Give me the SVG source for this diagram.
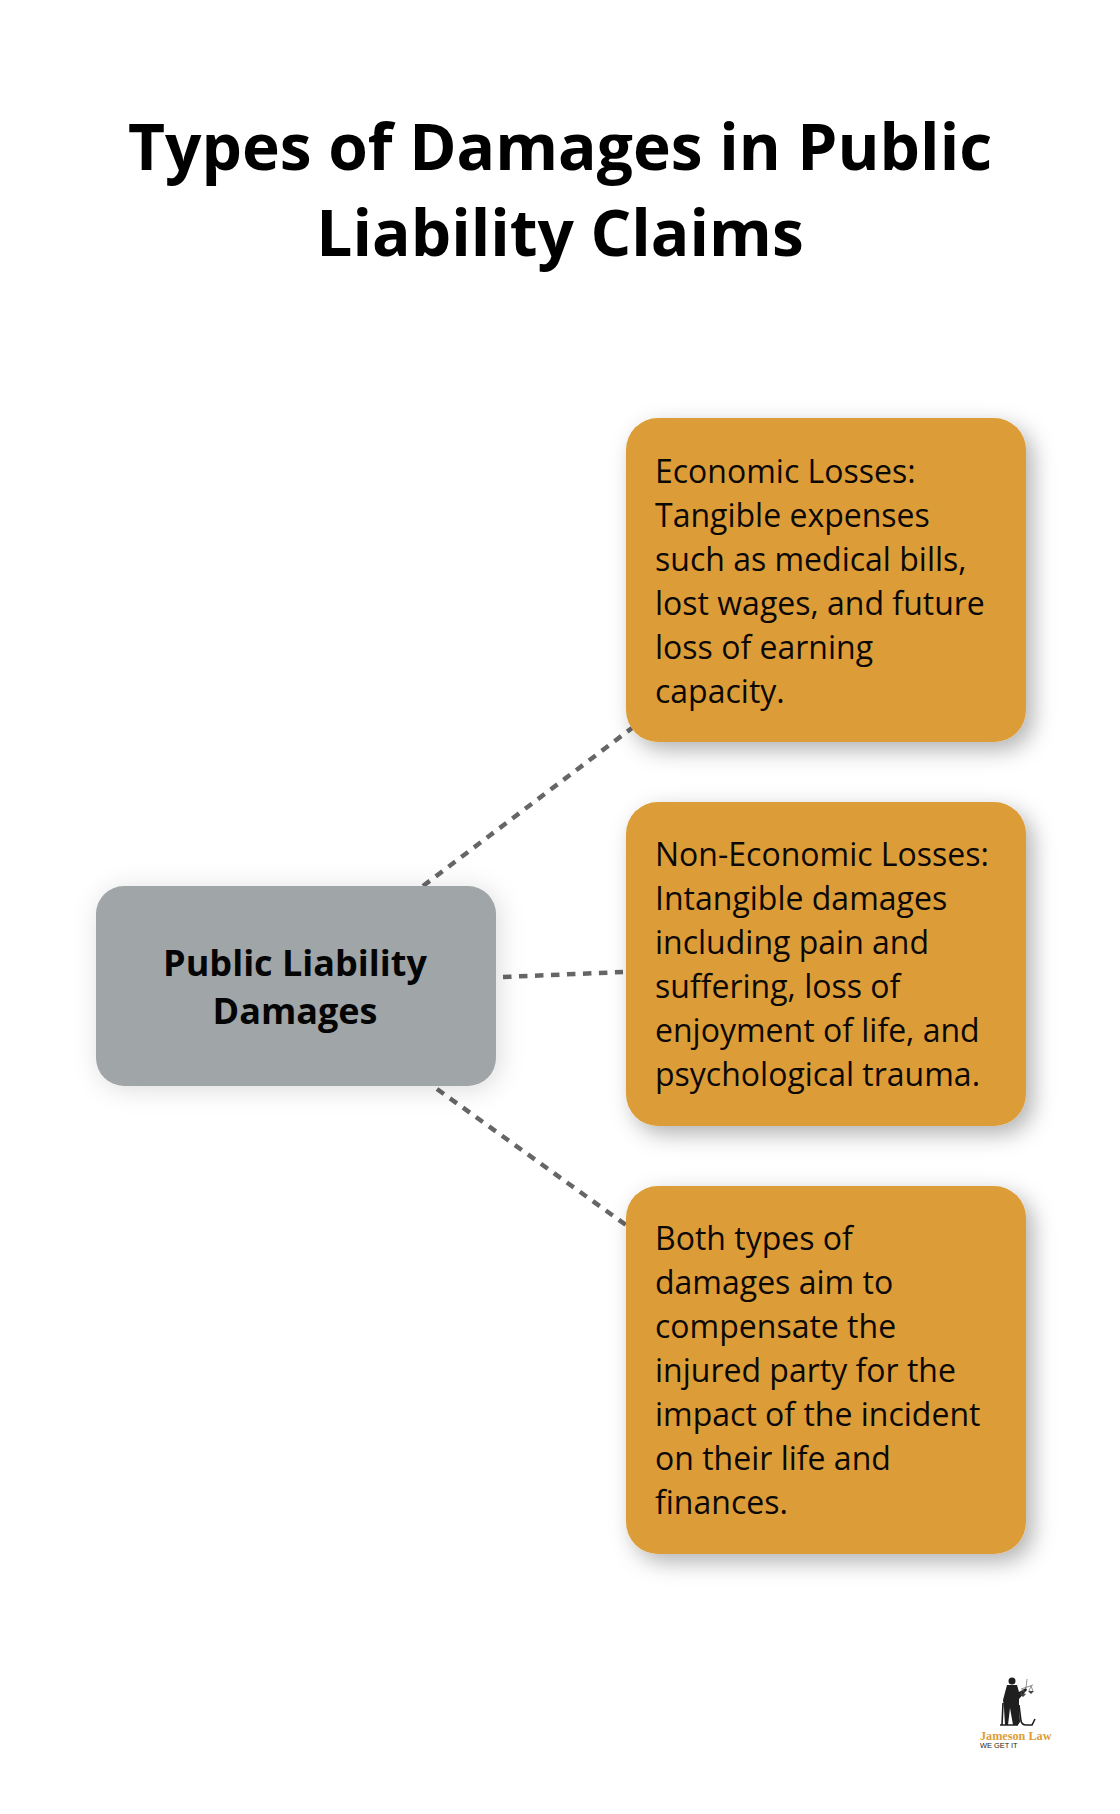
<svg xmlns="http://www.w3.org/2000/svg" width="1120" height="1814" viewBox="0 0 1120 1814">
<style>
text{font-family:"Open Sans","Noto Sans",sans-serif;fill:#000}
.title{font-size:64px;font-weight:700;text-anchor:middle}
.hub{font-size:36px;font-weight:700;text-anchor:middle;fill:#050505}
.body{font-size:32px;fill:#0c0805}
.box{fill:#dc9d38;filter:url(#sh)}
.hubbox{fill:#a0a5a8;filter:url(#shh)}
.con{stroke:#666;stroke-width:4.5;stroke-dasharray:8.5 7.5;fill:none}
</style>
<defs>
<filter id="sh" x="-20%" y="-20%" width="140%" height="140%"><feDropShadow dx="7" dy="8" stdDeviation="11" flood-color="#000" flood-opacity="0.3"/></filter>
<filter id="shh" x="-20%" y="-30%" width="140%" height="160%"><feDropShadow dx="3" dy="3" stdDeviation="13" flood-color="#000" flood-opacity="0.14"/></filter>
</defs>
<rect width="1120" height="1814" fill="#fff"/>
<g id="title">
<text class="title" x="560" y="170">Types of Damages in Public</text>
<text class="title" x="560" y="256">Liability Claims</text>
</g>
<g id="connectors">
<path class="con" d="M423 886L632 728"/>
<path class="con" d="M503 977L623 972"/>
<path class="con" d="M437 1089L626 1225"/>
</g>
<g id="hub">
<rect class="hubbox" x="96" y="886" width="400" height="200" rx="28"/>
<text class="hub" x="295" y="976">Public Liability</text>
<text class="hub" x="295" y="1024">Damages</text>
</g>
<g id="node-economic">
<rect class="box" x="626" y="418" width="400" height="324" rx="32"/>
<text class="body" x="655" y="482.5">Economic Losses:</text>
<text class="body" x="655" y="526.5">Tangible expenses</text>
<text class="body" x="655" y="570.5">such as medical bills,</text>
<text class="body" x="655" y="614.5">lost wages, and future</text>
<text class="body" x="655" y="658.5">loss of earning</text>
<text class="body" x="655" y="702.5">capacity.</text>
</g>
<g id="node-non-economic">
<rect class="box" x="626" y="802" width="400" height="324" rx="32"/>
<text class="body" x="655" y="866">Non-Economic Losses:</text>
<text class="body" x="655" y="910">Intangible damages</text>
<text class="body" x="655" y="954">including pain and</text>
<text class="body" x="655" y="998">suffering, loss of</text>
<text class="body" x="655" y="1042">enjoyment of life, and</text>
<text class="body" x="655" y="1086">psychological trauma.</text>
</g>
<g id="node-both">
<rect class="box" x="626" y="1186" width="400" height="368" rx="32"/>
<text class="body" x="655" y="1250">Both types of</text>
<text class="body" x="655" y="1294">damages aim to</text>
<text class="body" x="655" y="1338">compensate the</text>
<text class="body" x="655" y="1382">injured party for the</text>
<text class="body" x="655" y="1426">impact of the incident</text>
<text class="body" x="655" y="1470">on their life and</text>
<text class="body" x="655" y="1514">finances.</text>
</g>
<g id="logo">
<circle cx="1012" cy="1681" r="3.5" fill="#1f1f1f"/>
<path d="M1007 1685L1017 1685L1019 1692L1026 1688L1027 1690L1019 1699L1019 1706L1020 1722L1018 1725L1013 1725L1010 1708L1008 1725L1005 1725L1004 1708L1003 1700Z" fill="#1f1f1f"/>
<path d="M1019 1705L1021 1721Q1022 1725 1026 1725L1032 1725L1035 1719M1000 1725L1018 1725M1003 1703L1002 1725" stroke="#1f1f1f" stroke-width="1.6" fill="none"/>
<path d="M1026 1688L1027 1679M1021 1689L1033 1685M1023 1689L1021 1694M1023 1689L1025 1694M1031 1686L1029 1691M1031 1686L1033 1691" stroke="#666" stroke-width="0.7" fill="none"/>
<path d="M1020 1694H1026L1023 1697ZM1028 1691H1034L1031 1694Z" fill="#444"/>
<text x="980" y="1740" font-size="12.2" font-weight="700" style="font-family:'Liberation Serif',serif;fill:#dc9d38">Jameson Law</text>
<text x="980" y="1748" font-size="7.4" style="font-family:'Liberation Sans',sans-serif;fill:#222">WE GET IT</text>
</g>
</svg>
